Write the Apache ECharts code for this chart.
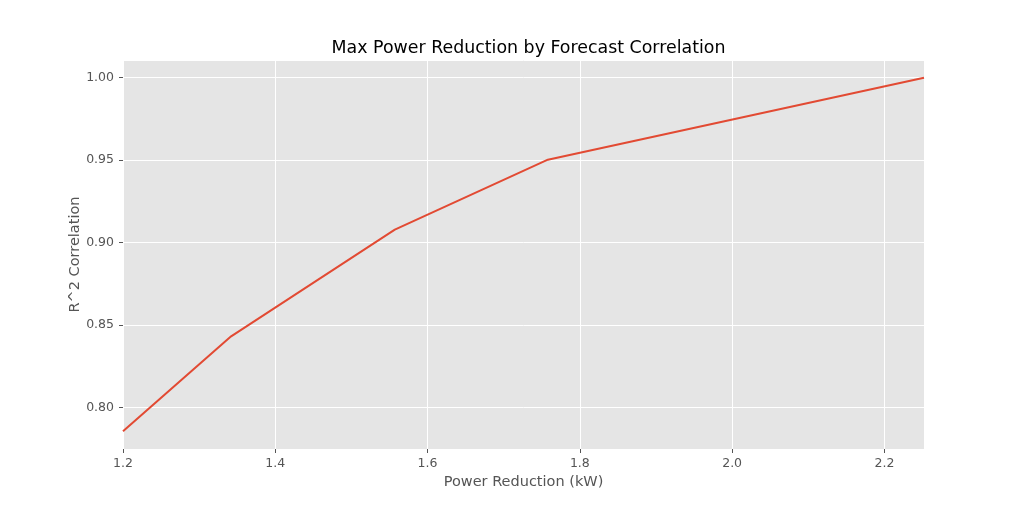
<!DOCTYPE html>
<html>
<head>
<meta charset="utf-8">
<script src="https://cdn.jsdelivr.net/npm/echarts@6/dist/echarts.min.js"></script>
<style>html,body{margin:0;padding:0;background:#fff}#c{width:1023px;height:514px}</style>
</head>
<body>
<div id="c"></div>
<script>
const powerReduction = [1.2, 1.342, 1.557, 1.758, 2.252];
const r2Correlation = [0.7856, 0.8432, 0.9079, 0.9503, 1.0];
const titleText = 'Max Power Reduction by Forecast Correlation';
const xName = 'Power Reduction (kW)';
const yName = 'R^2 Correlation';

const xMin = 1.2, xMax = 2.252;
const yPad = (Math.max(...r2Correlation) - Math.min(...r2Correlation)) * 0.05;
const yMin = Math.min(...r2Correlation) - yPad, yMax = Math.max(...r2Correlation) + yPad;

function near(v, step) { const r = v / step; return Math.abs(r - Math.round(r)) < 1e-6; }

const chart = echarts.init(document.getElementById('c'), null, {renderer: 'canvas'});
const font = 'DejaVu Sans';
chart.setOption({
  animation: false,
  backgroundColor: '#ffffff',
  title: {
    text: titleText, left: 523.5, top: 35, textAlign: 'center',
    textStyle: {fontFamily: font, fontSize: 17.4, fontWeight: 'normal', color: '#000'}
  },
  grid: {left: 123, top: 60, right: 99, bottom: 65, show: true, backgroundColor: '#E5E5E5', borderWidth: 0},
  xAxis: {
    type: 'value', min: xMin, max: xMax, splitNumber: 5,
    name: xName, nameLocation: 'middle', nameGap: 23,
    nameTextStyle: {fontFamily: font, fontSize: 14.5, color: '#555'},
    axisLine: {show: false},
    axisTick: {show: true, length: 4, lineStyle: {color: '#555'}},
    axisLabel: {fontFamily: font, fontSize: 12.5, color: '#555', margin: 8,
      showMinLabel: true, showMaxLabel: false,
      formatter: v => near(v, 0.2) ? v.toFixed(1) : ''},
    splitLine: {show: true, lineStyle: {color: '#ffffff', width: 1}}
  },
  yAxis: {
    type: 'value', min: yMin, max: yMax, splitNumber: 5,
    name: yName, nameLocation: 'middle', nameGap: 40, nameRotate: 90, nameMoveOverlap: false,
    nameTextStyle: {fontFamily: font, fontSize: 14.5, color: '#555'},
    axisLine: {show: false},
    axisTick: {show: true, length: 4, lineStyle: {color: '#555'}},
    axisLabel: {fontFamily: font, fontSize: 12.5, color: '#555', margin: 9,
      showMinLabel: false, showMaxLabel: false,
      formatter: v => near(v, 0.05) ? v.toFixed(2) : ''},
    splitLine: {show: true, lineStyle: {color: '#ffffff', width: 1}}
  },
  series: [{
    type: 'line',
    data: powerReduction.map((x, i) => [x, r2Correlation[i]]),
    showSymbol: false,
    lineStyle: {color: '#E24A33', width: 2},
    itemStyle: {color: '#E24A33'}
  }]
});
</script>
</body>
</html>
